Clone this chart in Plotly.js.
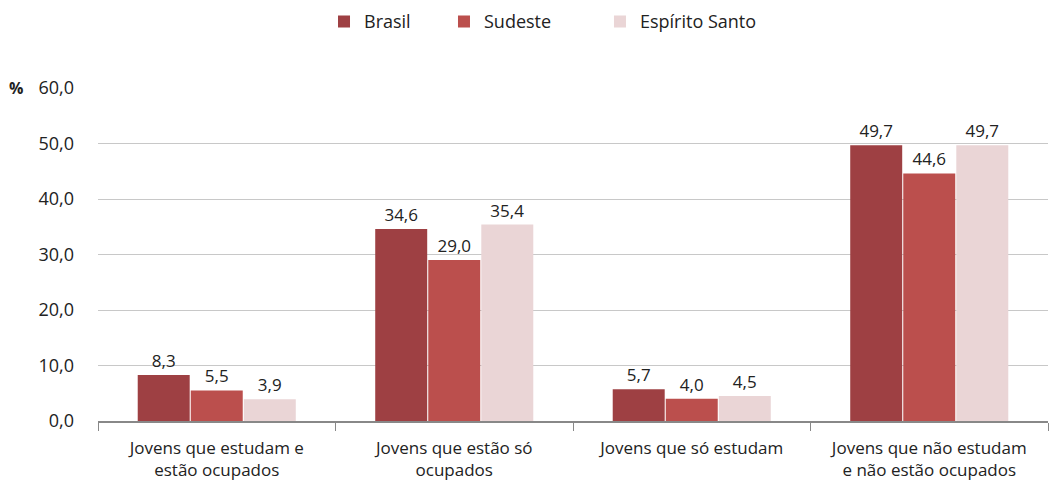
<!DOCTYPE html>
<html><head><meta charset="utf-8">
<script src="https://cdn.plot.ly/plotly-3.0.1.min.js"></script>
<style>body{margin:0;background:#fff}#chart{width:1049px;height:482px}</style>
</head><body><div id="chart"></div>
<script>
const categories = ["Jovens que estudam e<br>estão ocupados","Jovens que estão só<br>ocupados","Jovens que só estudam","Jovens que não estudam<br>e não estão ocupados"];
const brasil = [8.3, 34.6, 5.7, 49.7];
const sudeste = [5.5, 29.0, 4.0, 44.6];
const espiritoSanto = [3.9, 35.4, 4.5, 49.7];
const seriesNames = ["Brasil","Sudeste","Espírito Santo"];
const colors = ["#9e4043","#bb4f4d","#ead5d6"];
const font = "Open Sans, Noto Sans, sans-serif";
const vals = [brasil, sudeste, espiritoSanto];
const legendIds = ['legend','legend2','legend3'];
const data = vals.map((v,i)=>({
  type:'bar', x:categories, y:v, name:seriesNames[i], legend:legendIds[i],
  marker:{color:colors[i]},
  texttemplate:'%{y:.1f}', textposition:'outside', cliponaxis:false,
  textfont:{family:font,size:17,color:'#222'}, hoverinfo:'none'
}));
const legendX = [0.2379, 0.3642, 0.5284];
const mkLegend = x => ({orientation:'h', x:x, xanchor:'left', yref:'container', y:0.955, yanchor:'middle', bgcolor:'rgba(0,0,0,0)', font:{family:font,size:18,color:'#222'}});
const layout = {
  width:1049, height:482, separators:',.',
  margin:{l:98,r:1,t:88,b:61, autoexpand:false},
  barmode:'group', bargap:0.33, bargroupgap:0.02,
  font:{family:font,size:17,color:'#222'},
  showlegend:true,
  legend:mkLegend(legendX[0]), legend2:mkLegend(legendX[1]), legend3:mkLegend(legendX[2]),
  xaxis:{type:'category', tickson:'boundaries', ticks:'outside', ticklen:8, tickcolor:'#888', showline:true, linecolor:'#888', linewidth:1.5, showgrid:false, automargin:false, ticklabelstandoff:11, tickfont:{family:font,size:17,color:'#222'}},
  yaxis:{range:[0,60], dtick:10, tickformat:'.1f', showgrid:true, gridcolor:'#c8c8c8', zeroline:false, showline:false, ticks:'', automargin:false, ticklabelstandoff:23, tickfont:{family:font,size:18,color:'#222'}},
  annotations:[{xref:'paper',yref:'y',x:0,y:60,xanchor:'right',yanchor:'middle',xshift:-73,text:'<b>%</b>',showarrow:false,font:{family:font,size:16,color:'#222'}}]
};
Plotly.newPlot('chart', data, layout, {staticPlot:true});
</script></body></html>
